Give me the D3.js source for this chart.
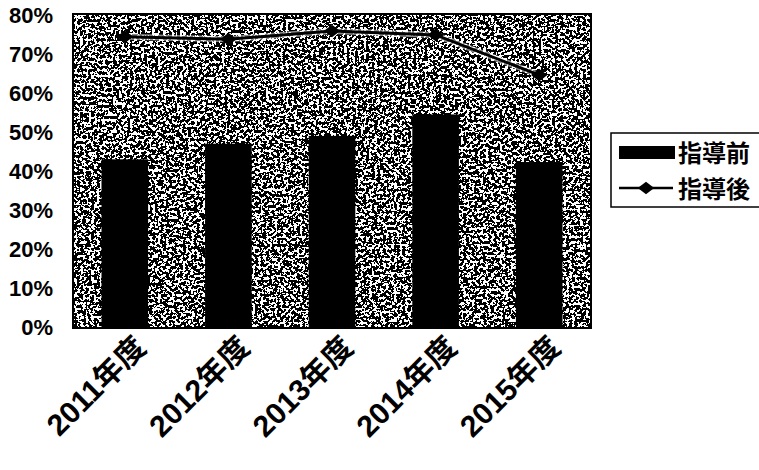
<!DOCTYPE html>
<html>
<head>
<meta charset="utf-8">
<script src="https://cdn.jsdelivr.net/npm/d3@7"></script>
<style>
  body { margin: 0; background: #fff; }
  text { font-family: "Liberation Sans", Arial, "Noto Sans CJK JP", sans-serif; font-weight: bold; fill: #000; }
  .cjk { font-family: "Liberation Sans", "Noto Sans CJK JP", sans-serif; }
</style>
</head>
<body>
<div id="chart"></div>
<script>
/*
    DATA
*/
let categories = ["2011年度", "2012年度", "2013年度", "2014年度", "2015年度"];
let beforeValues = [0.43, 0.47, 0.49, 0.545, 0.423];   // 指導前 (bars)
let afterValues = [0.744, 0.738, 0.759, 0.749, 0.646]; // 指導後 (line)
let yTicks = [0, 0.1, 0.2, 0.3, 0.4, 0.5, 0.6, 0.7, 0.8];
let seriesNames = ["指導前", "指導後"];

/*
    LAYOUT
*/
let SIZE = { width: 759, height: 470 };
let PLOT = { left: 73, right: 591, top: 14, bottom: 328 };

var svg = d3.select("#chart")
    .append("svg")
    .attr("width", SIZE.width)
    .attr("height", SIZE.height);

// scanned halftone look for the plot area
var defs = svg.append("defs");
var filter = defs.append("filter")
    .attr("id", "grain")
    .attr("x", 0).attr("y", 0).attr("width", 1).attr("height", 1)
    .attr("color-interpolation-filters", "sRGB");
filter.append("feTurbulence")
    .attr("type", "fractalNoise")
    .attr("baseFrequency", "0.36")
    .attr("numOctaves", 2)
    .attr("seed", 11);
filter.append("feColorMatrix")
    .attr("type", "matrix")
    .attr("values", "1 0 0 0 0  1 0 0 0 0  1 0 0 0 0  0 0 0 0 1");
var ct = filter.append("feComponentTransfer");
["feFuncR", "feFuncG", "feFuncB"].forEach(f => ct.append(f).attr("type", "discrete").attr("tableValues", "0 0 0 0 0 0 0 0 0 0 0 0 0 1 1 1 1 1 1 1 1 1 1 1 1"));

var x = d3.scaleBand()
    .domain(categories)
    .range([PLOT.left, PLOT.right])
    .paddingInner(0.55)
    .paddingOuter(0.275);

var y = d3.scaleLinear()
    .domain([0, 0.8])
    .range([327, 15]);

// plot background
svg.append("rect")
    .attr("x", PLOT.left)
    .attr("y", PLOT.top)
    .attr("width", PLOT.right - PLOT.left)
    .attr("height", PLOT.bottom - PLOT.top)
    .attr("fill", "#888")
    .attr("filter", "url(#grain)");

// bars
svg.selectAll("rect.bar")
    .data(beforeValues)
    .enter()
    .append("rect")
    .attr("class", "bar")
    .attr("x", (d, i) => x(categories[i]))
    .attr("y", d => y(d))
    .attr("width", x.bandwidth())
    .attr("height", d => y(0) - y(d))
    .attr("fill", "#000");

// line + diamonds
var line = d3.line()
    .x((d, i) => x(categories[i]) + x.bandwidth() / 2)
    .y(d => y(d));

// faint halo so the line reads over the grain, as in the scan
svg.append("path")
    .datum(afterValues)
    .attr("d", line)
    .attr("fill", "none")
    .attr("stroke", "#fff")
    .attr("stroke-opacity", 0.55)
    .attr("stroke-width", 6);
svg.append("path")
    .datum(afterValues)
    .attr("d", line)
    .attr("fill", "none")
    .attr("stroke", "#000")
    .attr("stroke-width", 3);

var diamond = d3.symbol(d3.symbolSquare).size(80);
svg.selectAll("path.marker")
    .data(afterValues)
    .enter()
    .append("path")
    .attr("class", "marker")
    .attr("d", diamond)
    .attr("transform", (d, i) => `translate(${x(categories[i]) + x.bandwidth() / 2},${y(d)}) scale(1.3,1) rotate(45)`)
    .attr("fill", "#000");

// plot frame
svg.append("rect")
    .attr("x", PLOT.left)
    .attr("y", PLOT.top)
    .attr("width", PLOT.right - PLOT.left)
    .attr("height", PLOT.bottom - PLOT.top)
    .attr("fill", "none")
    .attr("stroke", "#000")
    .attr("stroke-width", 2);

/*
    AXES
*/
var yAxis = svg.append("g")
    .attr("transform", `translate(${PLOT.left},0)`)
    .call(d3.axisLeft(y).tickValues(yTicks).tickFormat(d3.format(".0%")).tickSize(0).tickPadding(20));
yAxis.select(".domain").remove();
yAxis.selectAll("text")
    .style("font-size", "22px")
    .style("font-family", "Liberation Sans, Arial, sans-serif")
    .style("font-weight", "bold");

var xAxis = svg.append("g")
    .attr("transform", `translate(0,${PLOT.bottom})`)
    .call(d3.axisBottom(x).tickSize(0));
xAxis.select(".domain").remove();
xAxis.selectAll("text")
    .attr("class", "cjk")
    .style("font-size", "30px")
    .style("font-weight", "bold")
    .attr("text-anchor", "end")
    .attr("dy", null)
    .attr("y", 0)
    .attr("transform", "translate(23,21) rotate(-45)");

/*
    LEGEND
*/
var legend = svg.append("g");
legend.append("rect")
    .attr("x", 611)
    .attr("y", 133)
    .attr("width", 170)
    .attr("height", 74)
    .attr("fill", "#fff")
    .attr("stroke", "#000")
    .attr("stroke-width", 1.5);
legend.append("rect")
    .attr("x", 619)
    .attr("y", 146)
    .attr("width", 56)
    .attr("height", 13)
    .attr("fill", "#000");
legend.append("line")
    .attr("x1", 619).attr("x2", 673)
    .attr("y1", 188).attr("y2", 188)
    .attr("stroke", "#000")
    .attr("stroke-width", 2.5);
legend.append("path")
    .attr("d", diamond)
    .attr("transform", "translate(646,188) scale(1.3,1) rotate(45)")
    .attr("fill", "#000");
legend.selectAll("text")
    .data(seriesNames)
    .enter()
    .append("text")
    .attr("class", "cjk")
    .attr("x", 678)
    .attr("y", (d, i) => 153 + i * 36)
    .attr("dy", "0.36em")
    .style("font-size", "24px")
    .text(d => d);
</script>
</body>
</html>
